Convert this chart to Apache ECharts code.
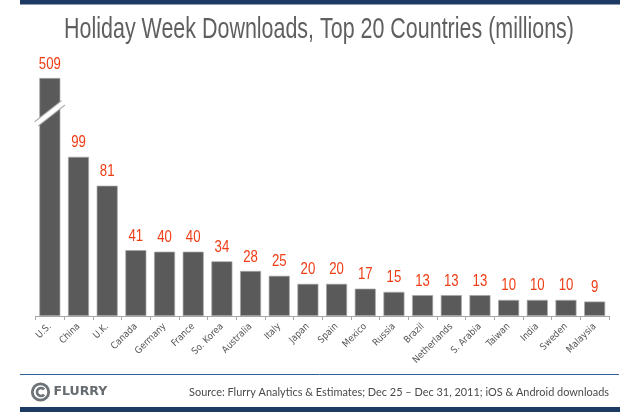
<!DOCTYPE html>
<html>
<head>
<meta charset="utf-8">
<style>html,body{margin:0;padding:0;background:#fff}#chart{width:640px;height:412px}</style>
<script src="https://cdn.jsdelivr.net/npm/echarts@6/dist/echarts.min.js"></script>
</head>
<body>
<div id="chart"></div>
<script>
var countries = ['U.S.','China','U.K.','Canada','Germany','France','So. Korea','Australia','Italy','Japan','Spain','Mexico','Russia','Brazil','Netherlands','S. Arabia','Taiwan','India','Sweden','Malaysia'];
var downloads = [509,99,81,41,40,40,34,28,25,20,20,17,15,13,13,13,10,10,10,9];
var cutFrom = 126, cutTo = 487; // part of the U.S. bar that is left out

var myChart = echarts.init(document.getElementById('chart'));
var option = {
    animation: false,
    backgroundColor: '#fff',
    grid: {left: 35.5, right: 31, top: 78, bottom: 96},
    xAxis: {
        type: 'category',
        data: countries,
        axisLine: {lineStyle: {color: '#a8a8a8', width: 1}},
        axisTick: {show: true, length: 4, lineStyle: {color: '#a8a8a8'}},
        axisLabel: {interval: 0, rotate: 45, margin: 9, fontFamily: 'DejaVu Sans Condensed', fontSize: 9.5, color: '#555'}
    },
    yAxis: {
        type: 'value', min: 0, max: 509, show: false,
        splitLine: {show: false},
        breaks: [{start: cutFrom, end: cutTo, gap: 0}],
        breakArea: {show: false}
    },
    series: [{
        type: 'bar',
        data: downloads,
        barWidth: 21,
        itemStyle: {color: '#5a5a5a', borderColor: '#a9a9a9', borderWidth: 0.7}
    }, {
        // value labels, squeezed to look like the narrow face of the original
        type: 'custom',
        data: downloads.map(function(v, i){ return [i, v]; }),
        encode: {x: 0, y: 1},
        clip: false,
        renderItem: function(params, api){
            var p = api.coord([api.value(0), api.value(1)]);
            return {
                type: 'text', x: p[0], y: p[1] - 5.5, scaleX: 0.8,
                style: {text: String(api.value(1)), fontFamily: 'Liberation Sans', fontSize: 16.5, fill: '#ee3d14', align: 'center', verticalAlign: 'bottom'}
            };
        }
    }],
    graphic: [
        {type: 'text', x: 319, y: 30, scaleX: 0.715, style: {text: 'Holiday Week Downloads, Top 20 Countries (millions)', fontFamily: 'Liberation Sans', fontSize: 30, fill: '#5f5f5f', align: 'center', verticalAlign: 'middle'}},
        {type: 'rect', shape: {x: 20, y: 0, width: 600, height: 4.5}, style: {fill: '#1c3a63'}},
        {type: 'line', shape: {x1: 20, y1: 374.5, x2: 619, y2: 374.5}, style: {stroke: '#2f6296', lineWidth: 1}},
        {type: 'rect', shape: {x: 20, y: 407, width: 600, height: 5}, style: {fill: '#1c3a63'}},
        // logo
        {type: 'circle', shape: {cx: 40.5, cy: 392, r: 8.2}, style: {fill: 'none', stroke: '#6d7377', lineWidth: 2.8}},
        {type: 'arc', shape: {cx: 41, cy: 392, r: 4, startAngle: 0.7, endAngle: 5.6}, style: {fill: 'none', stroke: '#6d7377', lineWidth: 2.6}},
        {type: 'text', x: 53.5, y: 392, style: {text: 'FLURRY', fontFamily: 'DejaVu Sans', fontWeight: 'bold', fontSize: 12.5, fill: '#666c70', verticalAlign: 'middle'}},
        {type: 'text', x: 609, y: 392, scaleX: 0.95, style: {text: 'Source: Flurry Analytics & Estimates; Dec 25 \u2013 Dec 31, 2011; iOS & Android downloads', fontFamily: 'Lato', fontSize: 11.5, fill: '#4a4a4a', align: 'right', verticalAlign: 'middle'}}
    ]
};
myChart.setOption(option);

// slash across the U.S. bar, placed where the axis is cut
var cut = myChart.convertToPixel({seriesIndex: 0}, [0, cutFrom]);
myChart.setOption({graphic: option.graphic.concat([
    {type: 'line', shape: {x1: cut[0] - 13.5, y1: cut[1] + 10.5, x2: cut[0] + 13.5, y2: cut[1] - 10.5}, style: {stroke: '#a9a9a9', lineWidth: 6.5}, z: 10},
    {type: 'line', shape: {x1: cut[0] - 14.5, y1: cut[1] + 11.3, x2: cut[0] + 14.5, y2: cut[1] - 11.3}, style: {stroke: '#fff', lineWidth: 4.5}, z: 11}
])});
</script>
</body>
</html>
